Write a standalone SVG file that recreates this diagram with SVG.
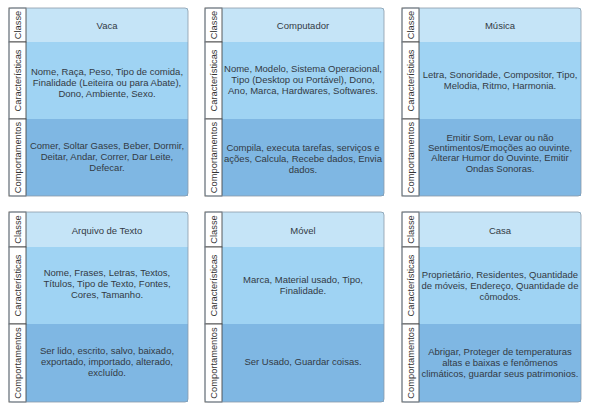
<svg xmlns="http://www.w3.org/2000/svg" width="592" height="412" viewBox="0 0 592 412">
<style>
.bg{fill:#ffffff}
.cls{fill:#c5e4f7}
.chr{fill:#9fd3f3}
.cmp{fill:#7fb7e3}
.lab{fill:#ffffff;stroke:#4a4a4a;stroke-width:0.9}
.frame{fill:none;stroke:#8a9aa8;stroke-width:0.8}
text{font-family:"Liberation Sans",Arial,sans-serif;font-size:9.5px;fill:#333a44;text-anchor:middle;dominant-baseline:central}
.vl{font-size:9.3px;fill:#333}
</style>
<rect class="bg" x="0" y="0" width="592" height="412"/>

<g id="vaca">
<rect class="cls" x="26" y="8" width="162" height="34"/>
<rect class="chr" x="26" y="42" width="162" height="77"/>
<rect class="cmp" x="26" y="119" width="162" height="77"/>
<rect class="lab" x="9" y="8" width="17" height="34"/>
<rect class="lab" x="9" y="42" width="17" height="77"/>
<rect class="lab" x="9" y="119" width="17" height="77"/>
<rect class="frame" x="9" y="8" width="179" height="188" rx="3"/>
<text class="vl" transform="translate(17.5,25) rotate(-90)">Classe</text>
<text class="vl" transform="translate(17.5,80.5) rotate(-90)">Características</text>
<text class="vl" transform="translate(17.5,157.5) rotate(-90)">Comportamentos</text>
<text x="107" y="25">Vaca</text>
<text x="107" y="71">Nome, Raça, Peso, Tipo de comida,</text>
<text x="107" y="82">Finalidade (Leiteira ou para Abate),</text>
<text x="107" y="93">Dono, Ambiente, Sexo.</text>
<text x="107" y="145">Comer, Soltar Gases, Beber, Dormir,</text>
<text x="107" y="156">Deitar, Andar, Correr, Dar Leite,</text>
<text x="107" y="167">Defecar.</text>
</g>

<g id="computador">
<rect class="cls" x="222" y="8" width="162" height="34"/>
<rect class="chr" x="222" y="42" width="162" height="77"/>
<rect class="cmp" x="222" y="119" width="162" height="77"/>
<rect class="lab" x="205" y="8" width="17" height="34"/>
<rect class="lab" x="205" y="42" width="17" height="77"/>
<rect class="lab" x="205" y="119" width="17" height="77"/>
<rect class="frame" x="205" y="8" width="179" height="188" rx="3"/>
<text class="vl" transform="translate(213.5,25) rotate(-90)">Classe</text>
<text class="vl" transform="translate(213.5,80.5) rotate(-90)">Características</text>
<text class="vl" transform="translate(213.5,157.5) rotate(-90)">Comportamentos</text>
<text x="303" y="25">Computador</text>
<text x="303" y="68">Nome, Modelo, Sistema Operacional,</text>
<text x="303" y="79">Tipo (Desktop ou Portável), Dono,</text>
<text x="303" y="90">Ano, Marca, Hardwares, Softwares.</text>
<text x="303" y="147">Compila, executa tarefas, serviços e</text>
<text x="303" y="158">ações, Calcula, Recebe dados, Envia</text>
<text x="303" y="169">dados.</text>
</g>

<g id="musica">
<rect class="cls" x="419" y="8" width="162" height="34"/>
<rect class="chr" x="419" y="42" width="162" height="77"/>
<rect class="cmp" x="419" y="119" width="162" height="77"/>
<rect class="lab" x="402" y="8" width="17" height="34"/>
<rect class="lab" x="402" y="42" width="17" height="77"/>
<rect class="lab" x="402" y="119" width="17" height="77"/>
<rect class="frame" x="402" y="8" width="179" height="188" rx="3"/>
<text class="vl" transform="translate(410.5,25) rotate(-90)">Classe</text>
<text class="vl" transform="translate(410.5,80.5) rotate(-90)">Características</text>
<text class="vl" transform="translate(410.5,157.5) rotate(-90)">Comportamentos</text>
<text x="500" y="25">Música</text>
<text x="500" y="74">Letra, Sonoridade, Compositor, Tipo,</text>
<text x="500" y="85">Melodia, Ritmo, Harmonia.</text>
<text x="500" y="137">Emitir Som, Levar ou não</text>
<text x="500" y="147">Sentimentos/Emoções ao ouvinte,</text>
<text x="500" y="157.5">Alterar Humor do Ouvinte, Emitir</text>
<text x="500" y="168">Ondas Sonoras.</text>
</g>

<g id="arquivo-de-texto">
<rect class="cls" x="26" y="212" width="162" height="35"/>
<rect class="chr" x="26" y="247" width="162" height="77"/>
<rect class="cmp" x="26" y="324" width="162" height="78"/>
<rect class="lab" x="9" y="212" width="17" height="35"/>
<rect class="lab" x="9" y="247" width="17" height="77"/>
<rect class="lab" x="9" y="324" width="17" height="78"/>
<rect class="frame" x="9" y="212" width="179" height="190" rx="3"/>
<text class="vl" transform="translate(17.5,229.5) rotate(-90)">Classe</text>
<text class="vl" transform="translate(17.5,285.5) rotate(-90)">Características</text>
<text class="vl" transform="translate(17.5,363) rotate(-90)">Comportamentos</text>
<text x="107" y="230">Arquivo de Texto</text>
<text x="107" y="272.5">Nome, Frases, Letras, Textos,</text>
<text x="107" y="283.5">Títulos, Tipo de Texto, Fontes,</text>
<text x="107" y="294.5">Cores, Tamanho.</text>
<text x="107" y="350">Ser lido, escrito, salvo, baixado,</text>
<text x="107" y="361">exportado, importado, alterado,</text>
<text x="107" y="372">excluído.</text>
</g>

<g id="movel">
<rect class="cls" x="222" y="212" width="162" height="35"/>
<rect class="chr" x="222" y="247" width="162" height="77"/>
<rect class="cmp" x="222" y="324" width="162" height="78"/>
<rect class="lab" x="205" y="212" width="17" height="35"/>
<rect class="lab" x="205" y="247" width="17" height="77"/>
<rect class="lab" x="205" y="324" width="17" height="78"/>
<rect class="frame" x="205" y="212" width="179" height="190" rx="3"/>
<text class="vl" transform="translate(213.5,229.5) rotate(-90)">Classe</text>
<text class="vl" transform="translate(213.5,285.5) rotate(-90)">Características</text>
<text class="vl" transform="translate(213.5,363) rotate(-90)">Comportamentos</text>
<text x="303" y="230">Móvel</text>
<text x="303" y="279">Marca, Material usado, Tipo,</text>
<text x="303" y="290.5">Finalidade.</text>
<text x="303" y="361">Ser Usado, Guardar coisas.</text>
</g>

<g id="casa">
<rect class="cls" x="419" y="212" width="162" height="35"/>
<rect class="chr" x="419" y="247" width="162" height="77"/>
<rect class="cmp" x="419" y="324" width="162" height="78"/>
<rect class="lab" x="402" y="212" width="17" height="35"/>
<rect class="lab" x="402" y="247" width="17" height="77"/>
<rect class="lab" x="402" y="324" width="17" height="78"/>
<rect class="frame" x="402" y="212" width="179" height="190" rx="3"/>
<text class="vl" transform="translate(410.5,229.5) rotate(-90)">Classe</text>
<text class="vl" transform="translate(410.5,285.5) rotate(-90)">Características</text>
<text class="vl" transform="translate(410.5,363) rotate(-90)">Comportamentos</text>
<text x="500" y="230">Casa</text>
<text x="500" y="274">Proprietário, Residentes, Quantidade</text>
<text x="500" y="285">de móveis, Endereço, Quantidade de</text>
<text x="500" y="296">cômodos.</text>
<text x="500" y="351">Abrigar, Proteger de temperaturas</text>
<text x="500" y="362">altas e baixas e fenômenos</text>
<text x="500" y="373">climáticos, guardar seus patrimonios.</text>
</g>
</svg>
